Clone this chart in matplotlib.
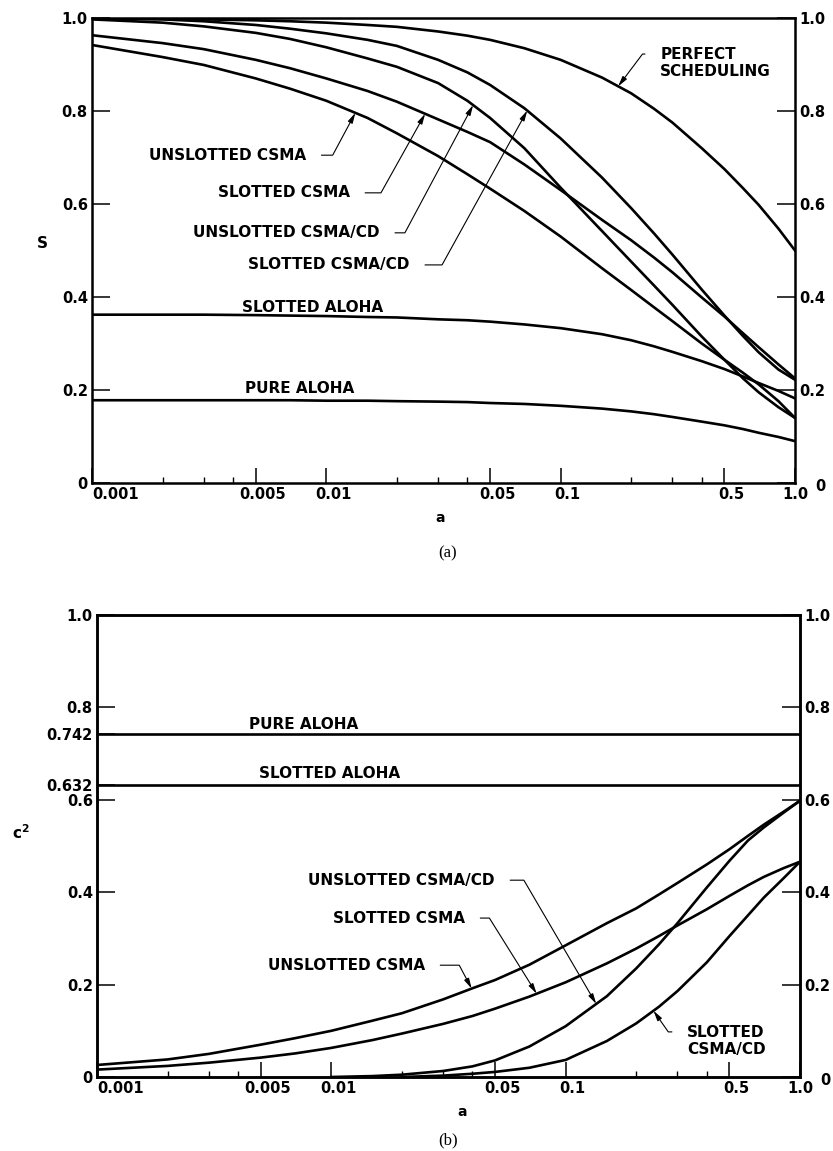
import matplotlib
matplotlib.use('Agg')
import matplotlib.pyplot as plt
import matplotlib.transforms as mtransforms
from matplotlib.ticker import NullFormatter
import numpy as np

plt.rcParams['font.family'] = ['DejaVu Sans']
plt.rcParams['font.weight'] = 'bold'
plt.rcParams['mathtext.default'] = 'regular'

# ---- data ----
a_grid = [0.001, 0.002, 0.003, 0.005, 0.007, 0.01, 0.015, 0.02, 0.03, 0.04, 0.05, 0.07,
          0.1, 0.15, 0.2, 0.25, 0.3, 0.4, 0.5, 0.6, 0.7, 0.85, 1.0]

# (a) throughput S
s_perfect = [0.999, 0.998, 0.997, 0.995, 0.993, 0.99, 0.985, 0.981, 0.971, 0.962, 0.953, 0.935,
             0.91, 0.872, 0.838, 0.805, 0.775, 0.72, 0.675, 0.634, 0.598, 0.547, 0.5]
s_slotted_csma_cd = [0.999, 0.997, 0.993, 0.985, 0.977, 0.967, 0.953, 0.94, 0.91, 0.883, 0.856, 0.806,
                     0.741, 0.657, 0.591, 0.537, 0.491, 0.416, 0.36, 0.316, 0.281, 0.244, 0.222]
s_unslotted_csma_cd = [0.997, 0.99, 0.982, 0.968, 0.955, 0.937, 0.913, 0.895, 0.86, 0.822, 0.785, 0.72,
                       0.635, 0.542, 0.476, 0.425, 0.383, 0.315, 0.265, 0.225, 0.195, 0.163, 0.14]
s_slotted_csma = [0.963, 0.946, 0.933, 0.91, 0.892, 0.87, 0.843, 0.82, 0.782, 0.755, 0.733, 0.685,
                  0.63, 0.566, 0.522, 0.485, 0.453, 0.399, 0.358, 0.322, 0.292, 0.255, 0.225]
s_unslotted_csma = [0.942, 0.916, 0.899, 0.87, 0.848, 0.822, 0.785, 0.752, 0.703, 0.664, 0.633, 0.585,
                    0.53, 0.462, 0.415, 0.378, 0.348, 0.3, 0.265, 0.237, 0.212, 0.176, 0.14]
s_slotted_aloha = [0.362, 0.362, 0.362, 0.361, 0.36, 0.359, 0.357, 0.356, 0.352, 0.35, 0.347, 0.341,
                   0.333, 0.32, 0.307, 0.294, 0.282, 0.262, 0.245, 0.229, 0.215, 0.198, 0.182]
s_pure_aloha = [0.178, 0.178, 0.178, 0.178, 0.178, 0.177, 0.177, 0.176, 0.175, 0.174, 0.172, 0.17,
                0.166, 0.16, 0.154, 0.148, 0.142, 0.132, 0.124, 0.116, 0.108, 0.099, 0.09]

# (b) c^2
c2_pure_aloha = 0.742
c2_slotted_aloha = 0.632
c2_unslotted_csma = [0.026, 0.038, 0.05, 0.07, 0.084, 0.1, 0.122, 0.138, 0.168, 0.192, 0.21, 0.243,
                     0.285, 0.333, 0.365, 0.395, 0.42, 0.46, 0.493, 0.522, 0.546, 0.574, 0.598]
c2_slotted_csma = [0.016, 0.024, 0.031, 0.042, 0.051, 0.063, 0.08, 0.094, 0.115, 0.132, 0.148, 0.174,
                   0.205, 0.246, 0.278, 0.305, 0.328, 0.363, 0.392, 0.415, 0.433, 0.452, 0.466]
a_ucd = [0.01, 0.015, 0.02, 0.03, 0.04, 0.05, 0.07, 0.1, 0.15, 0.2, 0.25, 0.3, 0.4, 0.5, 0.6, 0.7, 0.85, 1.0]
c2_unslotted_csma_cd = [0.0, 0.002, 0.005, 0.013, 0.023, 0.036, 0.066, 0.11, 0.175, 0.235, 0.287, 0.333,
                        0.41, 0.468, 0.512, 0.54, 0.572, 0.598]
a_scd = [0.02, 0.03, 0.04, 0.05, 0.07, 0.1, 0.15, 0.2, 0.25, 0.3, 0.4, 0.5, 0.6, 0.7, 0.85, 1.0]
c2_slotted_csma_cd = [0.0, 0.003, 0.007, 0.011, 0.02, 0.037, 0.078, 0.116, 0.152, 0.186, 0.248, 0.305,
                      0.35, 0.388, 0.43, 0.466]

x_ticks = [0.001, 0.005, 0.01, 0.05, 0.1, 0.5, 1.0]
x_tick_labels = ['0.001', '0.005', '0.01', '0.05', '0.1', '0.5', '1.0']
x_minor = [0.002, 0.003, 0.004, 0.02, 0.03, 0.04, 0.2, 0.3, 0.4]
y_ticks = [0, 0.2, 0.4, 0.6, 0.8, 1.0]
y_tick_labels = ['0', '0.2', '0.4', '0.6', '0.8', '1.0']
y2_ticks = [0, 0.2, 0.4, 0.6, 0.632, 0.742, 0.8, 1.0]
y2_tick_labels = ['0', '0.2', '0.4', '0.6', '0.632', '0.742', '0.8', '1.0']

LW = 1.9
FS = 10.5


def on_curve(a, xs, ys):
    # point on a drawn curve, used to put the leader arrow tip on it
    return (a, float(np.interp(np.log10(a), np.log10(xs), ys)))


def shift(fig, dx, dy):
    return mtransforms.ScaledTranslation(dx / 100, dy / 100, fig.dpi_scale_trans)


def style_axes(ax):
    ax.set_xscale('log')
    ax.set_xlim(0.001, 1.0)
    ax.set_ylim(0, 1.0)
    for sp in ax.spines.values():
        sp.set_linewidth(1.8)
    ax.set_xticks(x_ticks)
    ax.set_xticklabels(x_tick_labels)
    ax.set_xticks(x_minor, minor=True)
    ax.xaxis.set_minor_formatter(NullFormatter())
    ax.tick_params(axis='x', which='major', direction='in', length=11, width=1.1,
                   pad=3, labelsize=FS, top=False)
    ax.tick_params(axis='x', which='minor', direction='in', length=4, width=1.0, top=False)
    # labels sit a little right of their ticks
    labs = ax.get_xticklabels()
    for i, lab in enumerate(labs):
        if i == 0:
            lab.set_horizontalalignment('left')
        elif i < len(labs) - 1:
            lab.set_transform(lab.get_transform() + shift(ax.figure, 7, 0))


def leader(ax, text, xy, xytext, angle, ha='right', relpos=(1, 0.5)):
    ax.annotate(text, xy=xy, xytext=xytext, ha=ha, va='center', fontsize=11,
                fontweight='bold', linespacing=1.2,
                arrowprops=dict(arrowstyle='-|>,head_length=0.55,head_width=0.14',
                                color='black', lw=0.8, shrinkA=9, shrinkB=0,
                                relpos=relpos,
                                connectionstyle='angle,angleA=0,angleB=%g,rad=0' % angle))


fig = plt.figure(figsize=(8.33, 11.51), dpi=100)
ax1 = fig.add_axes([92 / 833, 1 - 483 / 1151, 703 / 833, 465 / 1151])
ax2 = fig.add_axes([97 / 833, 1 - 1077 / 1151, 703 / 833, 462 / 1151])

# ---------------- (a) ----------------
style_axes(ax1)
ax1.plot(a_grid, s_perfect, 'k-', lw=LW)
ax1.plot(a_grid, s_slotted_csma_cd, 'k-', lw=LW)
ax1.plot(a_grid, s_unslotted_csma_cd, 'k-', lw=LW)
ax1.plot(a_grid, s_slotted_csma, 'k-', lw=LW)
ax1.plot(a_grid, s_unslotted_csma, 'k-', lw=LW)
ax1.plot(a_grid, s_slotted_aloha, 'k-', lw=LW)
ax1.plot(a_grid, s_pure_aloha, 'k-', lw=LW)

ax1.set_yticks(y_ticks)
ax1.set_yticklabels(y_tick_labels)
ax1.tick_params(axis='y', which='major', direction='in', length=13, width=1.1, pad=3,
                labelsize=FS, left=True, right=True, labelleft=True, labelright=True)
lab0 = ax1.yaxis.get_major_ticks()[0].label2
lab0.set_transform(lab0.get_transform() + shift(fig, 16, -2))

leader(ax1, 'UNSLOTTED CSMA', on_curve(0.0133, a_grid, s_unslotted_csma), (0.0082, 0.705), 61.8)
leader(ax1, 'SLOTTED CSMA', on_curve(0.0264, a_grid, s_slotted_csma), (0.0126, 0.624), 60.8)
leader(ax1, 'UNSLOTTED CSMA/CD', on_curve(0.0423, a_grid, s_unslotted_csma_cd), (0.0169, 0.538), 61.9)
leader(ax1, 'SLOTTED CSMA/CD', on_curve(0.072, a_grid, s_slotted_csma_cd), (0.0227, 0.469), 61.1)
leader(ax1, 'PERFECT\nSCHEDULING', on_curve(0.176, a_grid, s_perfect), (0.266, 0.903), 53,
       ha='left', relpos=(0, 0.78))
ax1.text(0.00877, 0.378, 'SLOTTED ALOHA', ha='center', va='center', fontsize=11)
ax1.text(0.00772, 0.204, 'PURE ALOHA', ha='center', va='center', fontsize=11)

fig.text(42 / 833, 1 - 243 / 1151, 'S', ha='center', va='center', fontsize=11)
fig.text(440 / 833, 1 - 518 / 1151, 'a', ha='center', va='center', fontsize=10)
fig.text(448 / 833, 1 - 553 / 1151, '(a)', ha='center', va='center', fontsize=12,
         family='Liberation Serif', fontweight='normal')

# ---------------- (b) ----------------
style_axes(ax2)
ax2.axhline(c2_pure_aloha, color='k', lw=LW)
ax2.axhline(c2_slotted_aloha, color='k', lw=LW)
ax2.plot(a_grid, c2_unslotted_csma, 'k-', lw=LW)
ax2.plot(a_grid, c2_slotted_csma, 'k-', lw=LW)
ax2.plot(a_ucd, c2_unslotted_csma_cd, 'k-', lw=LW)
ax2.plot(a_scd, c2_slotted_csma_cd, 'k-', lw=LW)

ax2.set_yticks(y2_ticks)
ax2.set_yticklabels(y2_tick_labels)
ax2.tick_params(axis='y', which='major', direction='in', length=13, width=1.1, pad=3,
                labelsize=FS, left=True, right=False)
for t, v in zip(ax2.yaxis.get_major_ticks(), y2_ticks):
    if v in (c2_pure_aloha, c2_slotted_aloha):
        t.tick1line.set_visible(False)

ax2r = ax2.twinx()
ax2r.set_ylim(0, 1.0)
ax2r.set_yticks(y_ticks)
ax2r.set_yticklabels(y_tick_labels)
ax2r.tick_params(axis='y', direction='in', length=13, width=1.1, pad=3, labelsize=FS)
for sp in ax2r.spines.values():
    sp.set_linewidth(1.8)
lab0 = ax2r.yaxis.get_major_ticks()[0].label2
lab0.set_transform(lab0.get_transform() + shift(fig, 16, -2))

ax2.text(0.00764, 0.764, 'PURE ALOHA', ha='center', va='center', fontsize=11)
ax2.text(0.00986, 0.658, 'SLOTTED ALOHA', ha='center', va='center', fontsize=11)
leader(ax2, 'UNSLOTTED CSMA/CD', on_curve(0.135, a_ucd, c2_unslotted_csma_cd), (0.0499, 0.426), -59.7)
leader(ax2, 'SLOTTED CSMA', on_curve(0.0752, a_grid, c2_slotted_csma), (0.0372, 0.344), -58)
leader(ax2, 'UNSLOTTED CSMA', on_curve(0.0397, a_grid, c2_unslotted_csma), (0.0251, 0.242), -62)
leader(ax2, 'SLOTTED\nCSMA/CD', on_curve(0.237, a_scd, c2_slotted_csma_cd), (0.33, 0.078), 125,
       ha='left', relpos=(0, 0.78))

fig.text(21 / 833, 1 - 833 / 1151, 'c$^2$', ha='center', va='center', fontsize=11)
fig.text(462 / 833, 1 - 1112 / 1151, 'a', ha='center', va='center', fontsize=10)
fig.text(448 / 833, 1 - 1140 / 1151, '(b)', ha='center', va='center', fontsize=12,
         family='Liberation Serif', fontweight='normal')

fig.savefig('out.png', dpi=100)
